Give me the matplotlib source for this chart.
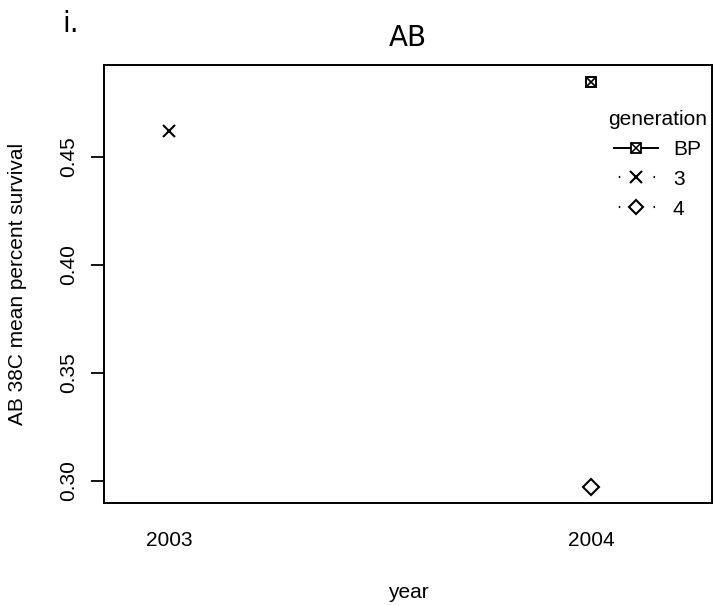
import matplotlib
matplotlib.use("Agg")
import matplotlib.pyplot as plt
from matplotlib.lines import Line2D
from matplotlib.legend_handler import HandlerTuple

plt.rcParams['font.family'] = ['Liberation Sans', 'DejaVu Sans']

# data
years = [2003, 2004]
gen_bp = [None, 0.4847]
gen_3 = [0.4620, None]
gen_4 = [None, 0.2972]
generations = ["BP", "3", "4"]

W, H = 715, 605
L, R, T, B = 104, 712, 65, 503
fig = plt.figure(figsize=(W / 100, H / 100), dpi=100)
ax = fig.add_axes([L / W, 1 - B / H, (R - L) / W, (B - T) / H])


def pts(vals):
    xs = [y for y, v in zip(years, vals) if v is not None]
    ys = [v for v in vals if v is not None]
    return xs, ys


x, y = pts(gen_bp)
ax.plot(x, y, ls="none", marker="s", ms=7, mfc="white", mec="black", mew=1.4)
ax.plot(x, y, ls="none", marker="x", ms=7, mec="black", mew=1.2)
x, y = pts(gen_3)
ax.plot(x, y, ls="none", marker="x", ms=8.5, mec="black", mew=1.5)
x, y = pts(gen_4)
ax.plot(x, y, ls="none", marker="D", ms=7.8, mfc="white", mec="black", mew=1.5)

ax.set_xlim(2002.846, 2004.287)
ax.set_ylim(0.2898, 0.4924)
ax.set_xticks(years)
ax.set_xticklabels([str(v) for v in years], fontsize=15)
ax.tick_params(axis="x", length=0, pad=20)
ax.set_yticks([0.30, 0.35, 0.40, 0.45])
ax.set_yticklabels(["0.30", "0.35", "0.40", "0.45"], fontsize=15, rotation=90, va="center")
ax.tick_params(axis="y", length=9.4, width=1.3, pad=9)
for s in ax.spines.values():
    s.set_linewidth(1.4)

ax.set_xlabel("year", fontsize=15)
ax.xaxis.set_label_coords(0.5, -(593 - B) / (B - T), transform=ax.transAxes)
ax.xaxis.label.set_va("center")
ax.set_ylabel("AB 38C mean percent survival", fontsize=15)
ax.yaxis.set_label_coords(-(L - 18) / (R - L), 0.5)
ax.yaxis.label.set_va("center")

title_font = ['Liberation Sans Narrow', 'DejaVu Sans']
fig.text((L + R) / 2 / W, 1 - 38 / H, "AB", fontsize=20, family=title_font,
         ha="center", va="center")
fig.text(62 / W, 1 - 24 / H, "i.", fontsize=20, family=title_font, ha="left", va="center")

# legend
dots = (14.4, (0.7, 16.0))
h_bp = (Line2D([], [], color="black", lw=1.4, marker="s", ms=6.5, mfc="white", mew=1.3),
        Line2D([], [], ls="none", marker="x", ms=6.5, mec="black", mew=1.1))
h_3 = Line2D([], [], color="black", lw=1.5, ls=dots, marker="x", ms=8.5, mew=1.5)
h_4 = Line2D([], [], color="black", lw=1.5, ls=dots, marker="D", ms=7.5, mfc="white", mew=1.5)
leg = ax.legend([h_bp, h_3, h_4], generations, title="generation", frameon=False,
                loc="upper right", bbox_to_anchor=(707 / W, 1 - 110 / H),
                bbox_transform=fig.transFigure, borderpad=0, borderaxespad=0,
                fontsize=15, title_fontsize=15, handlelength=2.1, handletextpad=0.72,
                labelspacing=0.52, handler_map={tuple: HandlerTuple(ndivide=1)})

fig.savefig("out.png", dpi=100)
